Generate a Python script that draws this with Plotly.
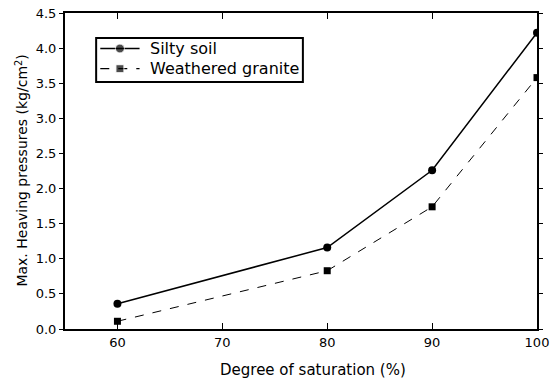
import plotly.graph_objects as go

saturation = [60, 80, 90, 100]
silty_soil = [0.36, 1.16, 2.26, 4.22]
weathered_granite = [0.11, 0.83, 1.74, 3.58]
x_ticks = [60, 70, 80, 90, 100]
y_ticks = [0.0, 0.5, 1.0, 1.5, 2.0, 2.5, 3.0, 3.5, 4.0, 4.5]
series_names = ["Silty soil", "Weathered granite"]

font_family = "DejaVu Sans, Liberation Sans, sans-serif"

fig = go.Figure()
fig.add_trace(go.Scatter(
    x=saturation, y=silty_soil, name=series_names[0],
    mode="lines+markers", showlegend=False,
    line=dict(color="black", width=1.5),
    marker=dict(symbol="circle", size=8, color="black"),
))
fig.add_trace(go.Scatter(
    x=saturation, y=weathered_granite, name=series_names[1],
    mode="lines+markers", showlegend=False,
    line=dict(color="black", width=1, dash="dash"),
    marker=dict(symbol="square", size=7, color="black"),
))

# Compact boxed key drawn on an overlay axis pair spanning the key area
key_rows = [0.76, 0.30]
key_styles = [
    dict(line=dict(color="black", width=1.5), symbol="circle", size=9),
    dict(line=dict(color="black", width=1.2, dash="dash"), symbol="square", size=8),
]
for row, style in zip(key_rows, key_styles):
    fig.add_trace(go.Scatter(
        x=[0.02, 0.115, 0.21], y=[row, row, row], xaxis="x2", yaxis="y2",
        mode="lines+markers", showlegend=False, hoverinfo="skip",
        line=style["line"],
        marker=dict(symbol=style["symbol"], size=[0, style["size"], 0], color="black"),
    ))
for row, name in zip(key_rows, series_names):
    fig.add_annotation(
        x=0.25, y=row, xref="x2", yref="y2", text=name, showarrow=False,
        xanchor="left", yanchor="middle", font=dict(size=16),
    )
fig.add_shape(
    type="rect", xref="x2 domain", yref="y2 domain", x0=0, x1=1, y0=0, y1=1,
    line=dict(color="black", width=2), fillcolor="rgba(0,0,0,0)",
)

fig.update_layout(
    width=551, height=382,
    margin=dict(l=65, r=14, t=13, b=53),
    plot_bgcolor="white", paper_bgcolor="white",
    font=dict(family=font_family, color="black", size=13),
    xaxis=dict(
        range=[55, 100], tickvals=x_ticks, ticktext=[str(v) for v in x_ticks],
        showline=True, linecolor="black", linewidth=2, mirror="ticks",
        ticks="inside", ticklen=6, tickcolor="black",
        showgrid=False, zeroline=False, automargin=False,
        tickfont=dict(size=13),
    ),
    yaxis=dict(
        range=[0, 4.5], tickvals=y_ticks, ticktext=[f"{v:.1f}" for v in y_ticks],
        showline=True, linecolor="black", linewidth=2, mirror="ticks",
        ticks="outside", ticklen=4, tickcolor="black",
        showgrid=False, zeroline=False, automargin=False,
        tickfont=dict(size=13),
    ),
    xaxis2=dict(domain=[0.066, 0.504], range=[0, 1], visible=False, anchor="y2"),
    yaxis2=dict(domain=[0.782, 0.921], range=[0, 1], visible=False, anchor="x2"),
)

# Axis titles
fig.add_annotation(
    x=0.525, y=-0.13, xref="paper", yref="paper", text="Degree of saturation (%)",
    showarrow=False, xanchor="center", yanchor="middle", font=dict(size=15),
)
fig.add_annotation(
    x=-0.092, y=0.5, xref="paper", yref="paper",
    text="Max. Heaving pressures (kg/cm<sup>2</sup>)", textangle=-90,
    showarrow=False, xanchor="center", yanchor="middle", font=dict(size=14),
)

fig.write_html("out.html")
